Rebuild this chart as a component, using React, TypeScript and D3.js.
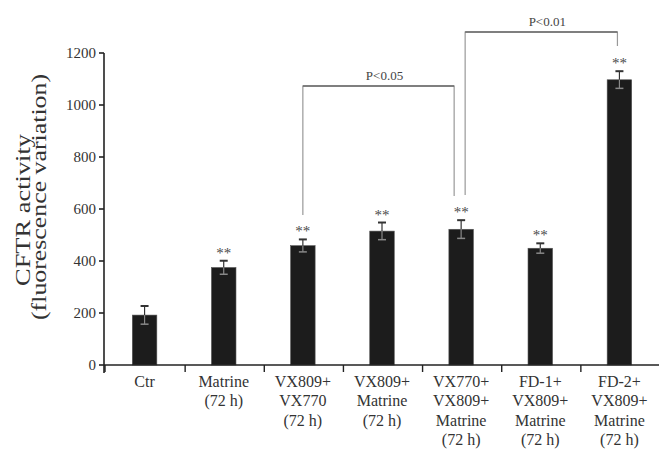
import React from "react";
import * as d3 from "d3";

const categories: string[][] = [
  ["Ctr"],
  ["Matrine", "(72 h)"],
  ["VX809+", "VX770", "(72 h)"],
  ["VX809+", "Matrine", "(72 h)"],
  ["VX770+", "VX809+", "Matrine", "(72 h)"],
  ["FD-1+", "VX809+", "Matrine", "(72 h)"],
  ["FD-2+", "VX809+", "Matrine", "(72 h)"],
];
const values = [192, 375, 459, 515, 522, 449, 1097];
const errors = [35, 26, 24, 33, 35, 19, 33];
const stars = [false, true, true, true, true, true, true];
const yTicks = [0, 200, 400, 600, 800, 1000, 1200];
const brackets = [
  { from: 2, to: 4, label: "P<0.05", level: 86, leftEnd: 215, rightEnd: 196 },
  { from: 4, to: 6, label: "P<0.01", level: 32, leftEnd: 195, rightEnd: 46 },
];

const W = 660;
const H = 449;
const X0 = 105;
const X1 = 659;
const Y0 = 365;
const Y1 = 53;
const FONT = "'Liberation Serif', 'DejaVu Serif', serif";

export default function App() {
  const keys = categories.map((_, i) => String(i));
  const x = d3.scaleBand<string>().domain(keys).range([X0, X1]).padding(0);
  const y = d3.scaleLinear().domain([0, 1200]).range([Y0, Y1]);
  const bw = x.bandwidth() * 0.31;
  const cx = (i: number) => (x(String(i)) as number) + x.bandwidth() / 2;
  const capW = 8;

  return (
    <svg width={W} height={H} style={{ display: "block", position: "absolute", left: 0, top: 0 }}>
      <rect x={0} y={0} width={W} height={H} fill="#fff" />
      {/* Y axis label */}
      <g fontFamily={FONT} fill="#333" fontSize={20} textAnchor="middle">
        <text transform={`translate(30,${210}) rotate(-90)`} textLength={152} lengthAdjust="spacingAndGlyphs">
          CFTR activity
        </text>
        <text transform={`translate(46,${197}) rotate(-90)`} textLength={246} lengthAdjust="spacingAndGlyphs">
          (fluorescence variation)
        </text>
      </g>
      {/* Y axis */}
      <line x1={X0 - 1} x2={X0 - 1} y1={y(1200)} y2={Y0 + 8} stroke="#222" strokeWidth={1.6} />
      {yTicks.map((t) => (
        <g key={t}>
          <line x1={X0 - 6} x2={X0 - 1} y1={y(t)} y2={y(t)} stroke="#222" strokeWidth={1.6} />
          <text x={X0 - 9} y={y(t) + 5} textAnchor="end" fontFamily={FONT} fontSize={15} fill="#333">
            {t}
          </text>
        </g>
      ))}
      {/* Bars */}
      {values.map((v, i) => (
        <rect key={i} x={cx(i) - bw / 2} y={y(v)} width={bw} height={Y0 - y(v)} fill="#1c1c1c" stroke="#555" strokeWidth={0.6} />
      ))}
      {/* Error bars */}
      {values.map((v, i) => {
        const top = y(v + errors[i]);
        const bot = y(v - errors[i]);
        const c = cx(i);
        return (
          <g key={i}>
            <line x1={c} x2={c} y1={top} y2={y(v)} stroke="#333" strokeWidth={1.2} />
            <line x1={c - capW / 2} x2={c + capW / 2} y1={top} y2={top} stroke="#333" strokeWidth={2} />
            <line x1={c} x2={c} y1={y(v)} y2={bot} stroke="#888" strokeWidth={1.2} />
            <line x1={c - capW / 2} x2={c + capW / 2} y1={bot} y2={bot} stroke="#888" strokeWidth={1.5} />
            {stars[i] && (
              <text x={c} y={top - 3} textAnchor="middle" fontFamily={FONT} fontSize={15} fill="#4a4a4a">
                **
              </text>
            )}
          </g>
        );
      })}
      {/* X axis */}
      <line x1={X0 - 1} x2={X1} y1={Y0} y2={Y0} stroke="#222" strokeWidth={1.6} />
      {keys.map((k, i) => (
        <line key={k} x1={(x(k) as number) + (i === 0 ? 0 : 1)} x2={(x(k) as number) + (i === 0 ? 0 : 1)} y1={Y0} y2={Y0 + 7} stroke="#222" strokeWidth={1.4} />
      ))}
      {categories.map((lines, i) => (
        <text key={i} textAnchor="middle" fontFamily={FONT} fontSize={16} fill="#333">
          {lines.map((l, j) => (
            <tspan key={j} x={cx(i)} y={386.5 + j * 19.5}>
              {l}
            </tspan>
          ))}
        </text>
      ))}
      {/* Significance brackets */}
      {brackets.map((b, i) => {
        const xl = cx(b.from) + (i === 1 ? 4 : 0);
        const xr = cx(b.to) - (i === 0 ? 7 : 2);
        return (
          <g key={i}>
            <path d={`M${xl},${b.leftEnd} V${b.level} H${xr} V${b.rightEnd}`} fill="none" stroke="#999" strokeWidth={1.2} />
            <line x1={xl} x2={xr} y1={b.level} y2={b.level} stroke="#666" strokeWidth={1.4} />
            <text x={(xl + xr) / 2 + 6} y={b.level - 6} textAnchor="middle" fontFamily={FONT} fontSize={13} fill="#444">
              {b.label}
            </text>
          </g>
        );
      })}
    </svg>
  );
}
